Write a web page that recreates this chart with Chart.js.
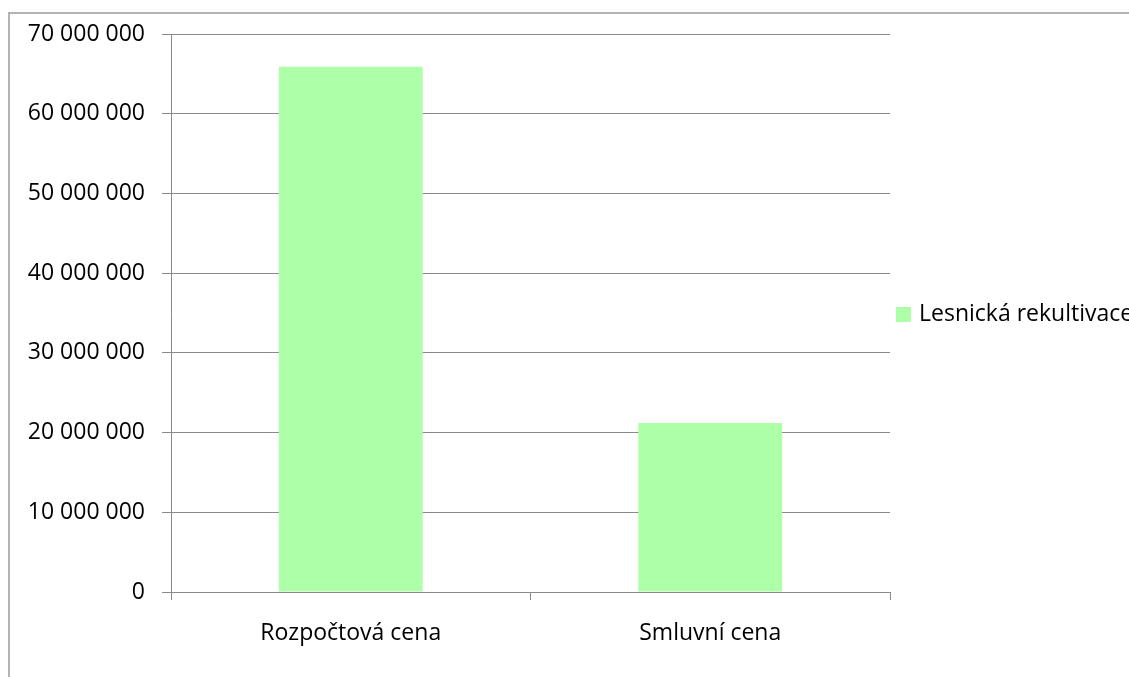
<!DOCTYPE html>
<html>
<head>
<meta charset="utf-8">
<script src="https://cdn.jsdelivr.net/npm/chart.js@4"></script>
<style>
    html, body { margin: 0; padding: 0; background: #fff; overflow: hidden; }
    .wrap { position: relative; width: 1129px; height: 677px; overflow: hidden; }
    .frame { position: absolute; left: 8px; top: 12px; width: 1300px; height: 800px;
             border-left: 2px solid #b3b3b3; border-top: 2px solid #b3b3b3; }
    canvas { position: absolute; left: 0; top: 0; }
    .legend { position: absolute; left: 896px; top: 296px; white-space: nowrap;
              font-family: "Open Sans", sans-serif; font-size: 23px; color: #000; }
    .legend .box { display: inline-block; width: 15px; height: 15px; margin-right: 8px;
                   vertical-align: -1px; }
</style>
</head>
<body>
<div class="wrap">
    <div class="frame"></div>
    <canvas id="chart" width="1129" height="677"></canvas>
    <div class="legend" id="legend"></div>
</div>
<script>
// data
const categories = ['Rozpočtová cena', 'Smluvní cena'];
const seriesName = 'Lesnická rekultivace';
const seriesValues = [65900000, 21200000];
const yTicks = [0, 10000000, 20000000, 30000000, 40000000, 50000000, 60000000, 70000000];

const barColor = '#adffa8';
const gridColor = '#8a8a8a';

function formatNumber(n) {
    return String(n).replace(/\B(?=(\d{3})+(?!\d))/g, ' ');
}

// legend (html, clipped at the right edge like the original)
const legend = document.getElementById('legend');
legend.innerHTML = `<span class="box" style="background:${barColor}"></span>${seriesName}`;

const ctx = document.getElementById('chart').getContext('2d');
new Chart(ctx, {
    type: 'bar',
    data: {
        labels: categories,
        datasets: [{
            label: seriesName,
            data: seriesValues,
            backgroundColor: barColor,
            borderWidth: 0,
            barPercentage: 0.4,
            categoryPercentage: 1
        }]
    },
    options: {
        responsive: false,
        animation: false,
        layout: { padding: { left: 0, top: 34, right: 239, bottom: 0 } },
        plugins: { legend: { display: false }, tooltip: { enabled: false } },
        scales: {
            x: {
                offset: true,
                grid: { display: true, offset: true, drawOnChartArea: false, drawTicks: true, tickLength: 8, color: gridColor },
                border: { display: true, color: gridColor, width: 1 },
                ticks: { color: '#000', padding: 20, font: { family: 'Open Sans', size: 23 } },
                afterFit: (axis) => { axis.height = 85; }
            },
            y: {
                min: 0,
                max: 70000000,
                afterBuildTicks: (axis) => { axis.ticks = yTicks.map(v => ({ value: v })); },
                grid: { color: gridColor, lineWidth: 1, tickLength: 9, drawTicks: true },
                border: { display: true, color: gridColor, width: 1 },
                ticks: {
                    color: '#000',
                    padding: 17,
                    font: { family: 'Open Sans', size: 23 },
                    callback: (v) => formatNumber(v)
                },
                afterFit: (axis) => { axis.width = 171; }
            }
        }
    }
});
</script>
</body>
</html>
